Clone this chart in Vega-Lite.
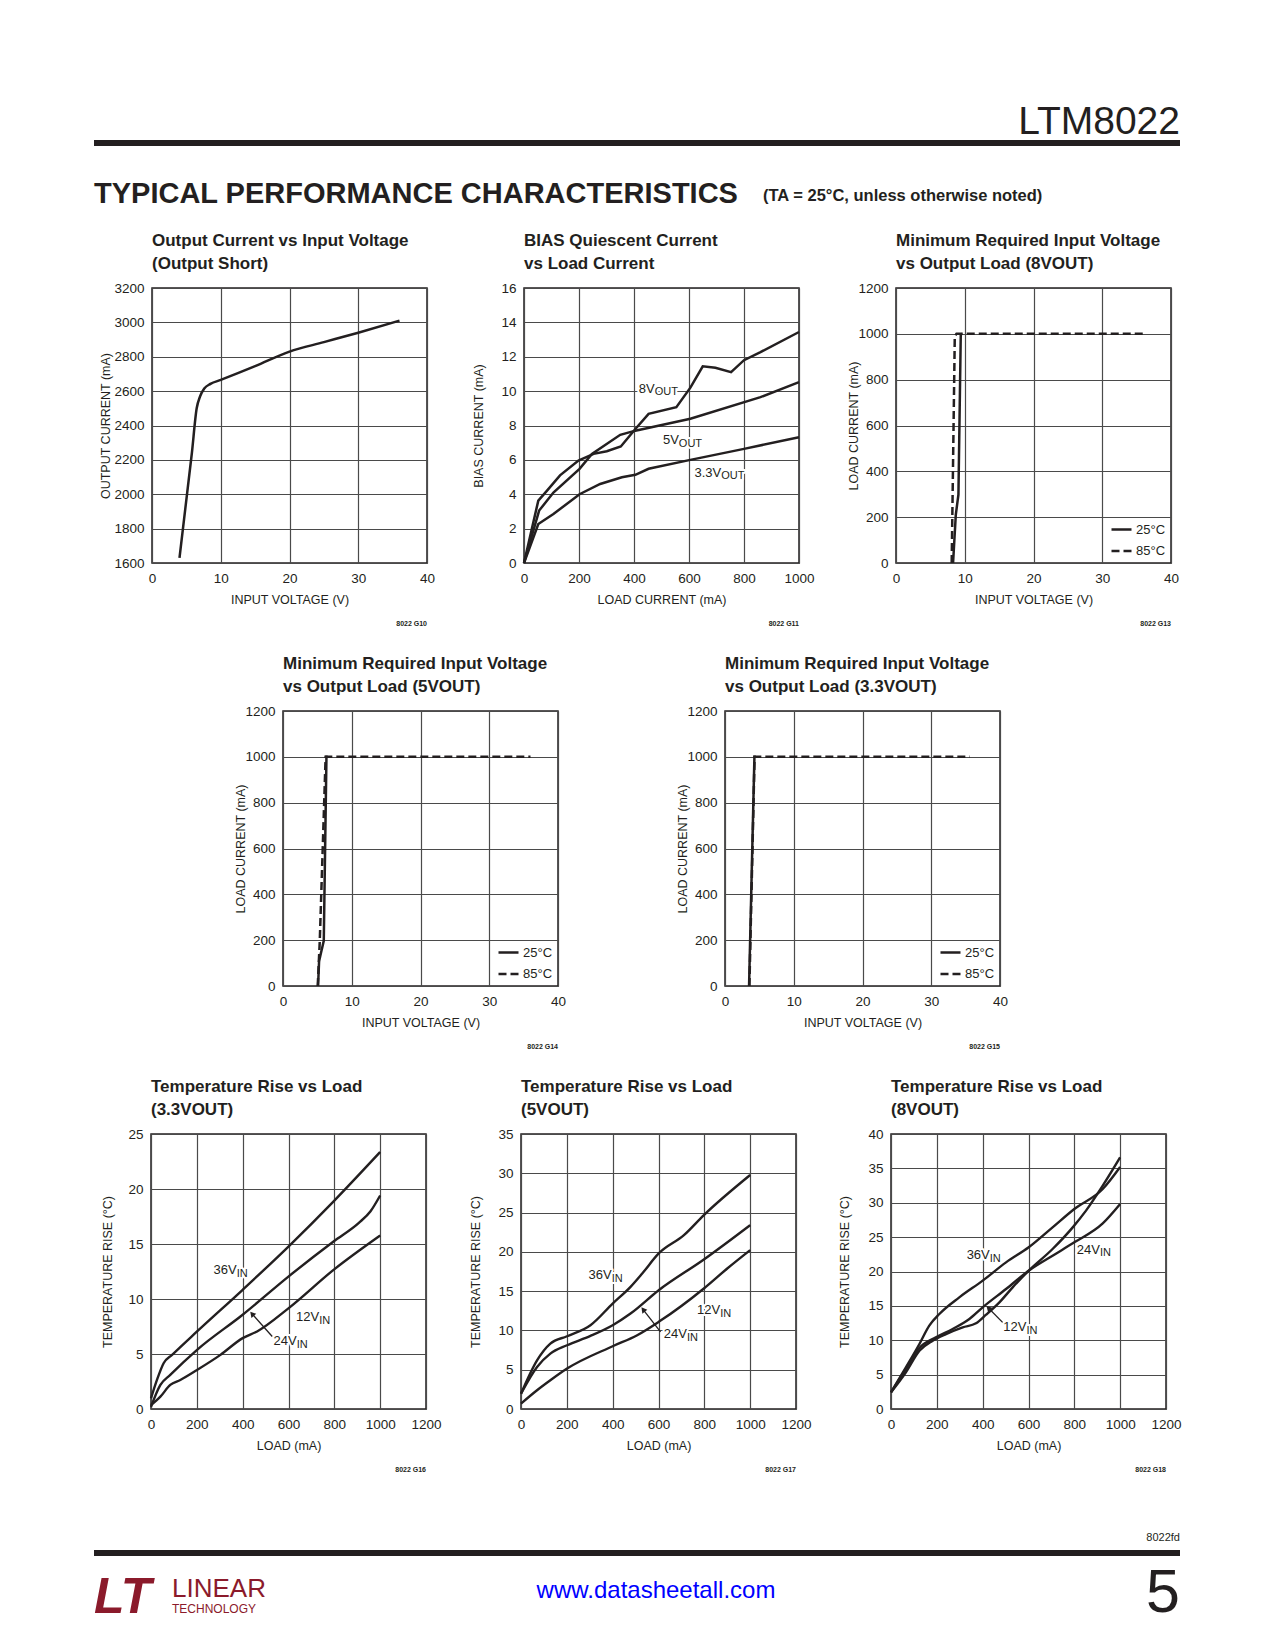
{
"$schema": "https://vega.github.io/schema/vega-lite/v6.json",
"padding": 0,
"autosize": {"type": "pad"},
"background": "white",
"datasets": {
"lab2": [{"x":475,"y":10.15,"m":"8V","sub":"OUT"},{"x":563,"y":7.13,"m":"5V","sub":"OUT"},{"x":717,"y":5.24,"m":"3.3V","sub":"OUT"}],
"lab6": [{"x":374,"y":12.6,"m":"36V","sub":"IN"},{"x":734,"y":8.35,"m":"12V","sub":"IN"},{"x":636,"y":6.14,"m":"24V","sub":"IN"}],
"lab7": [{"x":396,"y":17.03,"m":"36V","sub":"IN"},{"x":869,"y":12.57,"m":"12V","sub":"IN"},{"x":724,"y":9.52,"m":"24V","sub":"IN"}],
"lab8": [{"x":431,"y":22.4,"m":"36V","sub":"IN"},{"x":912,"y":23.13,"m":"24V","sub":"IN"},{"x":591,"y":11.88,"m":"12V","sub":"IN"}]
},
"config": {
"view": {"stroke": null},
"font": "Liberation Sans, Arial, sans-serif",
"numberFormat": "d",
"axis": {"domain": false, "ticks": false, "grid": true, "gridColor": "#4a4a4a", "gridWidth": 1.2, "gridOpacity": 1,
"labelFont": "Liberation Sans, Arial, sans-serif", "labelFontSize": 13.5, "labelColor": "#231f20", "labelPadding": 8, "labelFlush": false, "labelOverlap": false,
"titleFont": "Liberation Sans, Arial, sans-serif", "titleFontSize": 12.5, "titleFontWeight": "normal", "titleColor": "#231f20", "titleBaseline": "middle"},
"axisX": {"titleX": 137.5, "titleY": 36.5},
"axisY": {"titleX": -45, "titleY": 137.5},
"title": {"anchor": "start", "frame": "group", "font": "Liberation Sans, Arial, sans-serif", "fontSize": 17, "fontWeight": "bold", "color": "#231f20", "lineHeight": 22.5, "offset": 8.5},
"legend": {"orient": "bottom-right", "offset": 5, "padding": 0, "rowPadding": 2.5, "labelFont": "Liberation Sans, Arial, sans-serif", "labelFontSize": 13, "labelColor": "#231f20", "symbolType": "stroke", "symbolSize": 400, "symbolStrokeWidth": 2.5, "symbolStrokeColor": "#231f20", "labelOffset": 3}
},
"spacing": 0,
"bounds": "flush",
"resolve": {"scale": {"x": "independent", "y": "independent", "strokeDash": "independent"}, "legend": {"strokeDash": "independent"}},
"vconcat": [
{"width": 1, "height": 140, "data": {"values": []}, "mark": {"type": "point", "opacity": 0}},
{"hconcat": [
 {"width": 94, "height": 6, "data": {"values": []}, "mark": {"type": "point", "opacity": 0}},
 {"width": 1086, "height": 6, "data": {"values": []}, "mark": {"type": "point", "opacity": 0}, "view": {"fill": "#231f20", "stroke": null},
  "title": {"text": "LTM8022", "anchor": "end", "offset": -2.2, "fontSize": 39, "fontWeight": "normal"}}
], "spacing": 0, "bounds": "flush"},
{"width": 1, "height": 75, "data": {"values": []}, "mark": {"type": "point", "opacity": 0}},
{"hconcat": [
 {"width": 94, "height": 1, "data": {"values": []}, "mark": {"type": "point", "opacity": 0}},
 {"width": 669, "height": 1, "data": {"values": []}, "mark": {"type": "point", "opacity": 0},
  "title": {"text": "TYPICAL PERFORMANCE CHARACTERISTICS", "offset": 6.4, "fontSize": 29, "fontWeight": "bold"}},
 {"width": 300, "height": 1, "data": {"values": []}, "mark": {"type": "point", "opacity": 0},
  "title": {"text": "(TA = 25°C, unless otherwise noted)", "offset": 10.5, "fontSize": 16.5, "fontWeight": "bold"}}
], "spacing": 0, "bounds": "flush"},
{"width": 1, "height": 73, "data": {"values": []}, "mark": {"type": "point", "opacity": 0}},
{"hconcat": [
 {"width": 55, "height": 1, "data": {"values": []}, "mark": {"type": "point", "opacity": 0}},
 {"width": 275, "height": 275, "view": {"stroke": "#231f20", "strokeWidth": 1.5},
  "title": {"text": ["Output Current vs Input Voltage", "(Output Short)"]},
  "encoding": {
   "x": {"field": "x", "type": "quantitative", "scale": {"domain": [0, 40], "nice": false, "zero": false}, "axis": {"values": [0, 10, 20, 30, 40], "title": "INPUT VOLTAGE (V)", "format": "d"}},
   "y": {"field": "y", "type": "quantitative", "scale": {"domain": [1600, 3200], "nice": false, "zero": false}, "axis": {"values": [1600, 1800, 2000, 2200, 2400, 2600, 2800, 3000, 3200], "title": "OUTPUT CURRENT (mA)", "format": "d", "titleX": -47}}
  },
  "layer": [
   {"data": {"values": [{"s":"a","x":4,"y":1630},{"s":"a","x":5.8,"y":2240},{"s":"a","x":6.5,"y":2500},{"s":"a","x":7,"y":2570},{"s":"a","x":7.6,"y":2615},{"s":"a","x":8.5,"y":2642},{"s":"a","x":10,"y":2665},{"s":"a","x":15,"y":2745},{"s":"a","x":20,"y":2830},{"s":"a","x":25,"y":2885},{"s":"a","x":30,"y":2940},{"s":"a","x":36,"y":3010}]},
    "mark": {"type": "line", "color": "#231f20", "strokeWidth": 2.5, "interpolate": "monotone"}, "encoding": {"detail": {"field": "s", "type": "nominal"}}},
   {"data": {"values": [{"x": 40, "y": 1600, "t": "8022 G10"}]}, "mark": {"type": "text", "align": "right", "baseline": "middle", "dy": 61, "fontSize": 7, "fontWeight": "bold", "color": "#231f20"}, "encoding": {"text": {"field": "t", "type": "nominal"}}}
  ]},
 {"width": 275, "height": 275, "view": {"stroke": "#231f20", "strokeWidth": 1.5},
  "title": {"text": ["BIAS Quiescent Current", "vs Load Current"]},
  "encoding": {
   "x": {"field": "x", "type": "quantitative", "scale": {"domain": [0, 1000], "nice": false, "zero": false}, "axis": {"values": [0, 200, 400, 600, 800, 1000], "title": "LOAD CURRENT (mA)", "format": "d"}},
   "y": {"field": "y", "type": "quantitative", "scale": {"domain": [0, 16], "nice": false, "zero": false}, "axis": {"values": [0, 2, 4, 6, 8, 10, 12, 14, 16], "title": "BIAS CURRENT (mA)", "format": "d", "titleX": -46}}
  },
  "layer": [
   {"data": {"name": "lab2"}, "mark": {"type": "text", "align": "right", "baseline": "middle", "fontSize": 13, "fill": "white", "stroke": "white", "strokeWidth": 4, "strokeJoin": "round"}, "encoding": {"text": {"field": "m", "type": "nominal"}}},
   {"data": {"name": "lab2"}, "mark": {"type": "text", "align": "left", "baseline": "middle", "dy": 3.5, "fontSize": 11, "fill": "white", "stroke": "white", "strokeWidth": 4, "strokeJoin": "round"}, "encoding": {"text": {"field": "sub", "type": "nominal"}}},
   {"data": {"values": [
    {"s":"8V","x":0,"y":0},{"s":"8V","x":52,"y":3.63},{"s":"8V","x":83,"y":4.2},{"s":"8V","x":131,"y":5.1},{"s":"8V","x":198,"y":5.96},{"s":"8V","x":253,"y":6.35},{"s":"8V","x":301,"y":6.5},{"s":"8V","x":352,"y":6.78},{"s":"8V","x":405,"y":7.8},{"s":"8V","x":453,"y":8.68},{"s":"8V","x":554,"y":9.07},{"s":"8V","x":605,"y":10.2},{"s":"8V","x":650,"y":11.44},{"s":"8V","x":696,"y":11.36},{"s":"8V","x":753,"y":11.1},{"s":"8V","x":800,"y":11.8},{"s":"8V","x":860,"y":12.27},{"s":"8V","x":1000,"y":13.44},
    {"s":"5V","x":0,"y":0},{"s":"5V","x":55,"y":3.05},{"s":"5V","x":107,"y":4.1},{"s":"5V","x":202,"y":5.48},{"s":"5V","x":247,"y":6.35},{"s":"5V","x":350,"y":7.46},{"s":"5V","x":405,"y":7.7},{"s":"5V","x":605,"y":8.39},{"s":"5V","x":860,"y":9.65},{"s":"5V","x":1000,"y":10.52},
    {"s":"3.3V","x":0,"y":0},{"s":"3.3V","x":52,"y":2.27},{"s":"3.3V","x":107,"y":2.85},{"s":"3.3V","x":202,"y":4.0},{"s":"3.3V","x":277,"y":4.6},{"s":"3.3V","x":356,"y":4.99},{"s":"3.3V","x":405,"y":5.13},{"s":"3.3V","x":453,"y":5.48},{"s":"3.3V","x":605,"y":6.0},{"s":"3.3V","x":800,"y":6.64},{"s":"3.3V","x":1000,"y":7.32}]},
    "mark": {"type": "line", "color": "#231f20", "strokeWidth": 2.5}, "encoding": {"detail": {"field": "s", "type": "nominal"}}},
   {"data": {"name": "lab2"}, "mark": {"type": "text", "align": "right", "baseline": "middle", "fontSize": 13, "color": "#231f20"}, "encoding": {"text": {"field": "m", "type": "nominal"}}},
   {"data": {"name": "lab2"}, "mark": {"type": "text", "align": "left", "baseline": "middle", "dy": 3.5, "fontSize": 11, "color": "#231f20"}, "encoding": {"text": {"field": "sub", "type": "nominal"}}},
   {"data": {"values": [{"x": 1000, "y": 0, "t": "8022 G11"}]}, "mark": {"type": "text", "align": "right", "baseline": "middle", "dy": 61, "fontSize": 7, "fontWeight": "bold", "color": "#231f20"}, "encoding": {"text": {"field": "t", "type": "nominal"}}}
  ]},
 {"width": 275, "height": 275, "view": {"stroke": "#231f20", "strokeWidth": 1.5},
  "title": {"text": ["Minimum Required Input Voltage", "vs Output Load (8VOUT)"]},
  "encoding": {
   "x": {"field": "x", "type": "quantitative", "scale": {"domain": [0, 40], "nice": false, "zero": false}, "axis": {"values": [0, 10, 20, 30, 40], "title": "INPUT VOLTAGE (V)", "format": "d"}},
   "y": {"field": "y", "type": "quantitative", "scale": {"domain": [0, 1200], "nice": false, "zero": false}, "axis": {"values": [0, 200, 400, 600, 800, 1000, 1200], "title": "LOAD CURRENT (mA)", "format": "d", "titleX": -43}}
  },
  "layer": [
   {"data": {"values": [
    {"s":"25°C","x":8.3,"y":0},{"s":"25°C","x":8.7,"y":211},{"s":"25°C","x":9.08,"y":298},{"s":"25°C","x":9.42,"y":996},{"s":"25°C","x":9.6,"y":1000},
    {"s":"85°C","x":8.1,"y":0},{"s":"85°C","x":8.55,"y":990},{"s":"85°C","x":8.8,"y":1000},{"s":"85°C","x":36,"y":1000}]},
    "mark": {"type": "line", "color": "#231f20", "strokeWidth": 2.5},
    "encoding": {"strokeDash": {"field": "s", "type": "nominal", "scale": {"domain": ["25°C", "85°C"], "range": [[1, 0], [8, 4]]}, "legend": {"title": null}}}},
   {"data": {"values": [{"x": 40, "y": 0, "t": "8022 G13"}]}, "mark": {"type": "text", "align": "right", "baseline": "middle", "dy": 61, "fontSize": 7, "fontWeight": "bold", "color": "#231f20"}, "encoding": {"text": {"field": "t", "type": "nominal"}}}
  ]}
], "spacing": 97, "bounds": "flush", "resolve": {"scale": {"x": "independent", "y": "independent", "strokeDash": "independent"}, "legend": {"strokeDash": "independent"}}},
{"width": 1, "height": 423, "data": {"values": []}, "mark": {"type": "point", "opacity": 0}},
{"hconcat": [
 {"width": 116, "height": 1, "data": {"values": []}, "mark": {"type": "point", "opacity": 0}},
 {"width": 275, "height": 275, "view": {"stroke": "#231f20", "strokeWidth": 1.5},
  "title": {"text": ["Minimum Required Input Voltage", "vs Output Load (5VOUT)"]},
  "encoding": {
   "x": {"field": "x", "type": "quantitative", "scale": {"domain": [0, 40], "nice": false, "zero": false}, "axis": {"values": [0, 10, 20, 30, 40], "title": "INPUT VOLTAGE (V)", "format": "d"}},
   "y": {"field": "y", "type": "quantitative", "scale": {"domain": [0, 1200], "nice": false, "zero": false}, "axis": {"values": [0, 200, 400, 600, 800, 1000, 1200], "title": "LOAD CURRENT (mA)", "format": "d", "titleX": -43}}
  },
  "layer": [
   {"data": {"values": [
    {"s":"25°C","x":5.1,"y":0},{"s":"25°C","x":5.25,"y":109},{"s":"25°C","x":5.93,"y":197},{"s":"25°C","x":6.32,"y":1000},{"s":"25°C","x":6.5,"y":1000},
    {"s":"85°C","x":5.05,"y":0},{"s":"85°C","x":5.35,"y":197},{"s":"85°C","x":6.2,"y":1000},{"s":"85°C","x":36,"y":1000}]},
    "mark": {"type": "line", "color": "#231f20", "strokeWidth": 2.5},
    "encoding": {"strokeDash": {"field": "s", "type": "nominal", "scale": {"domain": ["25°C", "85°C"], "range": [[1, 0], [8, 4]]}, "legend": {"title": null}}}},
   {"data": {"values": [{"x": 40, "y": 0, "t": "8022 G14"}]}, "mark": {"type": "text", "align": "right", "baseline": "middle", "dy": 61, "fontSize": 7, "fontWeight": "bold", "color": "#231f20"}, "encoding": {"text": {"field": "t", "type": "nominal"}}}
  ]},
 {"width": 275, "height": 275, "view": {"stroke": "#231f20", "strokeWidth": 1.5},
  "title": {"text": ["Minimum Required Input Voltage", "vs Output Load (3.3VOUT)"]},
  "encoding": {
   "x": {"field": "x", "type": "quantitative", "scale": {"domain": [0, 40], "nice": false, "zero": false}, "axis": {"values": [0, 10, 20, 30, 40], "title": "INPUT VOLTAGE (V)", "format": "d"}},
   "y": {"field": "y", "type": "quantitative", "scale": {"domain": [0, 1200], "nice": false, "zero": false}, "axis": {"values": [0, 200, 400, 600, 800, 1000, 1200], "title": "LOAD CURRENT (mA)", "format": "d", "titleX": -43}}
  },
  "layer": [
   {"data": {"values": [
    {"s":"25°C","x":3.5,"y":0},{"s":"25°C","x":4.28,"y":1000},{"s":"25°C","x":4.5,"y":1000},
    {"s":"85°C","x":3.55,"y":0},{"s":"85°C","x":4.3,"y":1000},{"s":"85°C","x":35.6,"y":1000}]},
    "mark": {"type": "line", "color": "#231f20", "strokeWidth": 2.5},
    "encoding": {"strokeDash": {"field": "s", "type": "nominal", "scale": {"domain": ["25°C", "85°C"], "range": [[1, 0], [8, 4]]}, "legend": {"title": null}}}},
   {"data": {"values": [{"x": 40, "y": 0, "t": "8022 G15"}]}, "mark": {"type": "text", "align": "right", "baseline": "middle", "dy": 61, "fontSize": 7, "fontWeight": "bold", "color": "#231f20"}, "encoding": {"text": {"field": "t", "type": "nominal"}}}
  ]}
], "spacing": 167, "bounds": "flush", "resolve": {"scale": {"x": "independent", "y": "independent", "strokeDash": "independent"}, "legend": {"strokeDash": "independent"}}},
{"width": 1, "height": 423, "data": {"values": []}, "mark": {"type": "point", "opacity": 0}},
{"hconcat": [
 {"width": 56, "height": 1, "data": {"values": []}, "mark": {"type": "point", "opacity": 0}},
 {"width": 275, "height": 275, "view": {"stroke": "#231f20", "strokeWidth": 1.5},
  "title": {"text": ["Temperature Rise vs Load", "(3.3VOUT)"]},
  "encoding": {
   "x": {"field": "x", "type": "quantitative", "scale": {"domain": [0, 1200], "nice": false, "zero": false}, "axis": {"values": [0, 200, 400, 600, 800, 1000, 1200], "title": "LOAD (mA)", "format": "d"}},
   "y": {"field": "y", "type": "quantitative", "scale": {"domain": [0, 25], "nice": false, "zero": false}, "axis": {"values": [0, 5, 10, 15, 20, 25], "title": "TEMPERATURE RISE (°C)", "format": "d", "titleX": -44}}
  },
  "layer": [
   {"data": {"name": "lab6"}, "mark": {"type": "text", "align": "right", "baseline": "middle", "fontSize": 13, "fill": "white", "stroke": "white", "strokeWidth": 4, "strokeJoin": "round"}, "encoding": {"text": {"field": "m", "type": "nominal"}}},
   {"data": {"name": "lab6"}, "mark": {"type": "text", "align": "left", "baseline": "middle", "dy": 3.5, "fontSize": 11, "fill": "white", "stroke": "white", "strokeWidth": 4, "strokeJoin": "round"}, "encoding": {"text": {"field": "sub", "type": "nominal"}}},
   {"data": {"values": [
    {"s":"36V","x":0,"y":0.97},{"s":"36V","x":26,"y":2.64},{"s":"36V","x":55,"y":4.16},{"s":"36V","x":92,"y":4.92},{"s":"36V","x":201,"y":7.05},{"s":"36V","x":400,"y":10.84},{"s":"36V","x":601,"y":14.79},{"s":"36V","x":798,"y":18.9},{"s":"36V","x":1000,"y":23.36},
    {"s":"24V","x":0,"y":0.2},{"s":"24V","x":41,"y":2.19},{"s":"24V","x":84,"y":3.1},{"s":"24V","x":201,"y":5.38},{"s":"24V","x":400,"y":8.57},{"s":"24V","x":601,"y":12.06},{"s":"24V","x":798,"y":15.25},{"s":"24V","x":907,"y":16.92},{"s":"24V","x":958,"y":17.98},{"s":"24V","x":1000,"y":19.41},
    {"s":"12V","x":0,"y":0.36},{"s":"12V","x":41,"y":1.12},{"s":"12V","x":84,"y":2.19},{"s":"12V","x":128,"y":2.64},{"s":"12V","x":201,"y":3.55},{"s":"12V","x":303,"y":4.92},{"s":"12V","x":400,"y":6.44},{"s":"12V","x":463,"y":7.05},{"s":"12V","x":601,"y":9.17},{"s":"12V","x":798,"y":12.67},{"s":"12V","x":1000,"y":15.77}]},
    "mark": {"type": "line", "color": "#231f20", "strokeWidth": 2.4, "interpolate": "monotone"}, "encoding": {"detail": {"field": "s", "type": "nominal"}}},
   {"data": {"name": "lab6"}, "mark": {"type": "text", "align": "right", "baseline": "middle", "fontSize": 13, "color": "#231f20"}, "encoding": {"text": {"field": "m", "type": "nominal"}}},
   {"data": {"name": "lab6"}, "mark": {"type": "text", "align": "left", "baseline": "middle", "dy": 3.5, "fontSize": 11, "color": "#231f20"}, "encoding": {"text": {"field": "sub", "type": "nominal"}}},
   {"data": {"values": [{"x": 529, "y": 6.59, "x2": 441, "y2": 8.66}]}, "mark": {"type": "rule", "color": "#231f20", "strokeWidth": 1.3}, "encoding": {"x2": {"field": "x2"}, "y2": {"field": "y2"}}},
   {"data": {"values": [{"x": 441, "y": 8.66}]}, "mark": {"type": "point", "shape": "triangle-up", "filled": true, "color": "#231f20", "opacity": 1, "size": 40, "angle": 319}},
   {"data": {"values": [{"x": 1200, "y": 0, "t": "8022 G16"}]}, "mark": {"type": "text", "align": "right", "baseline": "middle", "dy": 61, "fontSize": 7, "fontWeight": "bold", "color": "#231f20"}, "encoding": {"text": {"field": "t", "type": "nominal"}}}
  ]},
 {"width": 275, "height": 275, "view": {"stroke": "#231f20", "strokeWidth": 1.5},
  "title": {"text": ["Temperature Rise vs Load", "(5VOUT)"]},
  "encoding": {
   "x": {"field": "x", "type": "quantitative", "scale": {"domain": [0, 1200], "nice": false, "zero": false}, "axis": {"values": [0, 200, 400, 600, 800, 1000, 1200], "title": "LOAD (mA)", "format": "d"}},
   "y": {"field": "y", "type": "quantitative", "scale": {"domain": [0, 35], "nice": false, "zero": false}, "axis": {"values": [0, 5, 10, 15, 20, 25, 30, 35], "title": "TEMPERATURE RISE (°C)", "format": "d", "titleX": -46}}
  },
  "layer": [
   {"data": {"name": "lab7"}, "mark": {"type": "text", "align": "right", "baseline": "middle", "fontSize": 13, "fill": "white", "stroke": "white", "strokeWidth": 4, "strokeJoin": "round"}, "encoding": {"text": {"field": "m", "type": "nominal"}}},
   {"data": {"name": "lab7"}, "mark": {"type": "text", "align": "left", "baseline": "middle", "dy": 3.5, "fontSize": 11, "fill": "white", "stroke": "white", "strokeWidth": 4, "strokeJoin": "round"}, "encoding": {"text": {"field": "sub", "type": "nominal"}}},
   {"data": {"values": [
    {"s":"36V","x":0,"y":1.95},{"s":"36V","x":70,"y":6.2},{"s":"36V","x":128,"y":8.33},{"s":"36V","x":201,"y":9.26},{"s":"36V","x":303,"y":10.66},{"s":"36V","x":400,"y":13.42},{"s":"36V","x":478,"y":15.55},{"s":"36V","x":529,"y":17.25},{"s":"36V","x":601,"y":19.8},{"s":"36V","x":711,"y":22.13},{"s":"36V","x":798,"y":24.68},{"s":"36V","x":1000,"y":29.78},
    {"s":"24V","x":0,"y":1.95},{"s":"24V","x":70,"y":5.35},{"s":"24V","x":128,"y":7.05},{"s":"24V","x":201,"y":8.11},{"s":"24V","x":303,"y":9.3},{"s":"24V","x":400,"y":10.66},{"s":"24V","x":478,"y":12.15},{"s":"24V","x":601,"y":15.12},{"s":"24V","x":798,"y":19.03},{"s":"24V","x":1000,"y":23.4},
    {"s":"12V","x":0,"y":0.68},{"s":"12V","x":70,"y":2.38},{"s":"12V","x":128,"y":3.65},{"s":"12V","x":201,"y":5.14},{"s":"12V","x":400,"y":7.99},{"s":"12V","x":507,"y":9.39},{"s":"12V","x":601,"y":11.09},{"s":"12V","x":798,"y":15.34},{"s":"12V","x":900,"y":17.88},{"s":"12V","x":1000,"y":20.22}]},
    "mark": {"type": "line", "color": "#231f20", "strokeWidth": 2.4, "interpolate": "monotone"}, "encoding": {"detail": {"field": "s", "type": "nominal"}}},
   {"data": {"name": "lab7"}, "mark": {"type": "text", "align": "right", "baseline": "middle", "fontSize": 13, "color": "#231f20"}, "encoding": {"text": {"field": "m", "type": "nominal"}}},
   {"data": {"name": "lab7"}, "mark": {"type": "text", "align": "left", "baseline": "middle", "dy": 3.5, "fontSize": 11, "color": "#231f20"}, "encoding": {"text": {"field": "sub", "type": "nominal"}}},
   {"data": {"values": [{"x": 609, "y": 9.81, "x2": 533, "y2": 12.66}]}, "mark": {"type": "rule", "color": "#231f20", "strokeWidth": 1.3}, "encoding": {"x2": {"field": "x2"}, "y2": {"field": "y2"}}},
   {"data": {"values": [{"x": 533, "y": 12.66}]}, "mark": {"type": "point", "shape": "triangle-up", "filled": true, "color": "#231f20", "opacity": 1, "size": 40, "angle": 322}},
   {"data": {"values": [{"x": 1200, "y": 0, "t": "8022 G17"}]}, "mark": {"type": "text", "align": "right", "baseline": "middle", "dy": 61, "fontSize": 7, "fontWeight": "bold", "color": "#231f20"}, "encoding": {"text": {"field": "t", "type": "nominal"}}}
  ]},
 {"width": 275, "height": 275, "view": {"stroke": "#231f20", "strokeWidth": 1.5},
  "title": {"text": ["Temperature Rise vs Load", "(8VOUT)"]},
  "encoding": {
   "x": {"field": "x", "type": "quantitative", "scale": {"domain": [0, 1200], "nice": false, "zero": false}, "axis": {"values": [0, 200, 400, 600, 800, 1000, 1200], "title": "LOAD (mA)", "format": "d"}},
   "y": {"field": "y", "type": "quantitative", "scale": {"domain": [0, 40], "nice": false, "zero": false}, "axis": {"values": [0, 5, 10, 15, 20, 25, 30, 35, 40], "title": "TEMPERATURE RISE (°C)", "format": "d", "titleX": -47}}
  },
  "layer": [
   {"data": {"name": "lab8"}, "mark": {"type": "text", "align": "right", "baseline": "middle", "fontSize": 13, "fill": "white", "stroke": "white", "strokeWidth": 4, "strokeJoin": "round"}, "encoding": {"text": {"field": "m", "type": "nominal"}}},
   {"data": {"name": "lab8"}, "mark": {"type": "text", "align": "left", "baseline": "middle", "dy": 3.5, "fontSize": 11, "fill": "white", "stroke": "white", "strokeWidth": 4, "strokeJoin": "round"}, "encoding": {"text": {"field": "sub", "type": "nominal"}}},
   {"data": {"values": [
    {"s":"36V","x":0,"y":2.42},{"s":"36V","x":65,"y":6.06},{"s":"36V","x":124,"y":9.45},{"s":"36V","x":167,"y":12.12},{"s":"36V","x":211,"y":13.82},{"s":"36V","x":298,"y":16.24},{"s":"36V","x":400,"y":18.67},{"s":"36V","x":502,"y":21.33},{"s":"36V","x":601,"y":23.52},{"s":"36V","x":705,"y":26.42},{"s":"36V","x":800,"y":29.09},{"s":"36V","x":924,"y":32.0},{"s":"36V","x":1000,"y":35.2},
    {"s":"12V","x":0,"y":2.42},{"s":"12V","x":65,"y":5.33},{"s":"12V","x":124,"y":8.48},{"s":"12V","x":182,"y":9.94},{"s":"12V","x":240,"y":10.9},{"s":"12V","x":313,"y":11.88},{"s":"12V","x":371,"y":12.46},{"s":"12V","x":415,"y":13.72},{"s":"12V","x":473,"y":15.52},{"s":"12V","x":531,"y":17.7},{"s":"12V","x":601,"y":20.12},{"s":"12V","x":705,"y":23.27},{"s":"12V","x":793,"y":26.42},{"s":"12V","x":851,"y":28.85},{"s":"12V","x":924,"y":32.48},{"s":"12V","x":1000,"y":36.6},
    {"s":"24V","x":0,"y":2.42},{"s":"24V","x":65,"y":5.82},{"s":"24V","x":124,"y":8.87},{"s":"24V","x":196,"y":10.42},{"s":"24V","x":269,"y":11.64},{"s":"24V","x":342,"y":13.09},{"s":"24V","x":400,"y":14.79},{"s":"24V","x":502,"y":17.45},{"s":"24V","x":601,"y":20.12},{"s":"24V","x":705,"y":22.3},{"s":"24V","x":800,"y":24.24},{"s":"24V","x":924,"y":27.0},{"s":"24V","x":1000,"y":29.82}]},
    "mark": {"type": "line", "color": "#231f20", "strokeWidth": 2.4, "interpolate": "monotone"}, "encoding": {"detail": {"field": "s", "type": "nominal"}}},
   {"data": {"name": "lab8"}, "mark": {"type": "text", "align": "right", "baseline": "middle", "fontSize": 13, "color": "#231f20"}, "encoding": {"text": {"field": "m", "type": "nominal"}}},
   {"data": {"name": "lab8"}, "mark": {"type": "text", "align": "left", "baseline": "middle", "dy": 3.5, "fontSize": 11, "color": "#231f20"}, "encoding": {"text": {"field": "sub", "type": "nominal"}}},
   {"data": {"values": [{"x": 487, "y": 12.6, "x2": 425, "y2": 14.69}]}, "mark": {"type": "rule", "color": "#231f20", "strokeWidth": 1.3}, "encoding": {"x2": {"field": "x2"}, "y2": {"field": "y2"}}},
   {"data": {"values": [{"x": 425, "y": 14.69}]}, "mark": {"type": "point", "shape": "triangle-up", "filled": true, "color": "#231f20", "opacity": 1, "size": 40, "angle": 315}},
   {"data": {"values": [{"x": 1200, "y": 0, "t": "8022 G18"}]}, "mark": {"type": "text", "align": "right", "baseline": "middle", "dy": 61, "fontSize": 7, "fontWeight": "bold", "color": "#231f20"}, "encoding": {"text": {"field": "t", "type": "nominal"}}}
  ]}
], "spacing": 95, "bounds": "flush", "resolve": {"scale": {"x": "independent", "y": "independent", "strokeDash": "independent"}, "legend": {"strokeDash": "independent"}}},
{"width": 1, "height": 416, "data": {"values": []}, "mark": {"type": "point", "opacity": 0}},
{"hconcat": [
 {"width": 94, "height": 6, "data": {"values": []}, "mark": {"type": "point", "opacity": 0}},
 {"width": 1086, "height": 6, "data": {"values": []}, "mark": {"type": "point", "opacity": 0}, "view": {"fill": "#231f20", "stroke": null},
  "title": {"text": "8022fd", "anchor": "end", "offset": 6.7, "fontSize": 11, "fontWeight": "normal"}}
], "spacing": 0, "bounds": "flush"},
{"width": 1, "height": 80, "data": {"values": []}, "mark": {"type": "point", "opacity": 0}},
{"hconcat": [
 {"width": 94, "height": 1, "data": {"values": []}, "mark": {"type": "point", "opacity": 0}},
 {"width": 78, "height": 1, "data": {"values": []}, "mark": {"type": "point", "opacity": 0},
  "title": {"text": "LT", "offset": 7.5, "fontSize": 50, "fontWeight": "bold", "fontStyle": "italic", "color": "#8b1a2b"}},
 {"width": 284, "height": 1, "data": {"values": []}, "mark": {"type": "point", "opacity": 0},
  "title": {"text": "LINEAR", "subtitle": "TECHNOLOGY", "offset": 15.5, "fontSize": 26, "fontWeight": "normal", "color": "#8b1a2b", "subtitleFont": "Liberation Sans, Arial, sans-serif", "subtitleFontSize": 12, "subtitleColor": "#8b1a2b", "subtitlePadding": 2}},
 {"width": 400, "height": 1, "data": {"values": []}, "mark": {"type": "point", "opacity": 0},
  "title": {"text": "www.datasheetall.com", "anchor": "middle", "offset": 27, "fontSize": 24, "fontWeight": "normal", "color": "#0000ff"}},
 {"width": 324, "height": 1, "data": {"values": []}, "mark": {"type": "point", "opacity": 0},
  "title": {"text": "5", "anchor": "end", "offset": 5.2, "fontSize": 61, "fontWeight": "normal", "color": "#231f20"}}
], "spacing": 0, "bounds": "flush"}
]
}
